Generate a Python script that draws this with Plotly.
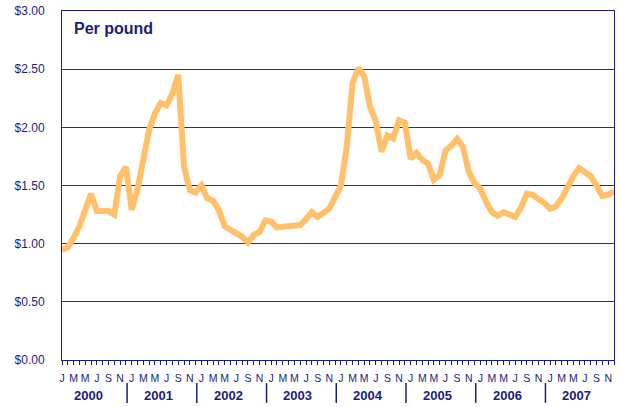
import plotly.graph_objects as go

years = ["2000", "2001", "2002", "2003", "2004", "2005", "2006", "2007"]
month_letters = ["J", "F", "M", "A", "M", "J", "J", "A", "S", "O", "N", "D"]
y_ticks = [0.0, 0.5, 1.0, 1.5, 2.0, 2.5, 3.0]

# Monthly price per pound, Jan 2000 - Dec 2007
price = [
    0.945, 0.97, 1.05, 1.15, 1.29, 1.43, 1.28, 1.275, 1.28, 1.25, 1.58, 1.66,   # 2000
    1.29, 1.47, 1.72, 1.98, 2.12, 2.21, 2.19, 2.29, 2.45, 1.66, 1.46, 1.44,     # 2001
    1.50, 1.39, 1.37, 1.29, 1.15, 1.12, 1.09, 1.06, 1.01, 1.075, 1.10, 1.20,    # 2002
    1.19, 1.14, 1.145, 1.15, 1.155, 1.16, 1.21, 1.27, 1.23, 1.27, 1.30, 1.40,   # 2003
    1.50, 1.83, 2.38, 2.51, 2.44, 2.18, 2.05, 1.79, 1.93, 1.905, 2.06, 2.04,    # 2004
    1.73, 1.78, 1.72, 1.69, 1.55, 1.59, 1.80, 1.84, 1.90, 1.83, 1.62, 1.52,     # 2005
    1.47, 1.36, 1.27, 1.24, 1.27, 1.25, 1.23, 1.31, 1.43, 1.42, 1.39, 1.35,     # 2006
    1.30, 1.32, 1.39, 1.49, 1.58, 1.65, 1.61, 1.58, 1.50, 1.41, 1.42, 1.45,     # 2007
]

navy = "#1c1c80"
grid = "#2a2a8a"
font_family = "Liberation Sans, Arial, sans-serif"

n = len(years) * 12
x = list(range(n))
tick_text = [month_letters[i % 12] if i % 2 == 0 else "" for i in x]

fig = go.Figure()
fig.add_trace(go.Scatter(
    x=x, y=price, mode="lines",
    line=dict(color="#FFC069", width=6, shape="linear"),
    hoverinfo="skip", showlegend=False, cliponaxis=False,
))

fig.update_layout(
    width=619, height=407,
    margin=dict(l=62, r=5, t=11, b=47, autoexpand=False),
    paper_bgcolor="white", plot_bgcolor="white",
    font=dict(family=font_family, color=navy),
    xaxis=dict(
        range=[0, n - 1], tickmode="array", tickvals=x, ticktext=tick_text,
        ticks="outside", ticklen=4, tickcolor=navy, tickwidth=1,
        ticklabelstandoff=4,
        showgrid=False, zeroline=False, automargin=False,
        showline=True, linecolor=navy, linewidth=1, mirror=True,
        tickfont=dict(size=10.5, color=navy), tickangle=0,
        fixedrange=True,
    ),
    yaxis=dict(
        range=[0, 3], tickmode="array", tickvals=y_ticks,
        tickformat="$.2f", ticks="", ticklabelstandoff=14,
        showgrid=True, gridcolor=grid, gridwidth=1, zeroline=False,
        showline=True, linecolor=navy, linewidth=1, mirror=True,
        tickfont=dict(size=12, color=navy), automargin=False,
        fixedrange=True,
    ),
)

fig.add_annotation(
    text="<b>Per pound</b>", xref="paper", yref="paper",
    x=0.018, y=0.95, xanchor="left", yanchor="middle", showarrow=False,
    font=dict(size=16, color=navy, family=font_family),
)

for k, yr in enumerate(years):
    fig.add_annotation(
        text=f"<b>{yr}</b>", xref="x", yref="paper",
        x=k * 12 + 4.6, y=-0.102, xanchor="center", yanchor="middle",
        showarrow=False, font=dict(size=13, color=navy, family=font_family),
    )
    if k > 0:
        fig.add_shape(
            type="line", xref="x", yref="paper",
            x0=k * 12 - 0.8, x1=k * 12 - 0.8, y0=-0.066, y1=-0.123,
            line=dict(color=navy, width=1.5),
        )

fig.write_html(
    "out.html",
    config={"displayModeBar": False},
    post_script="document.body.style.margin='0';document.body.style.padding='0';",
)
